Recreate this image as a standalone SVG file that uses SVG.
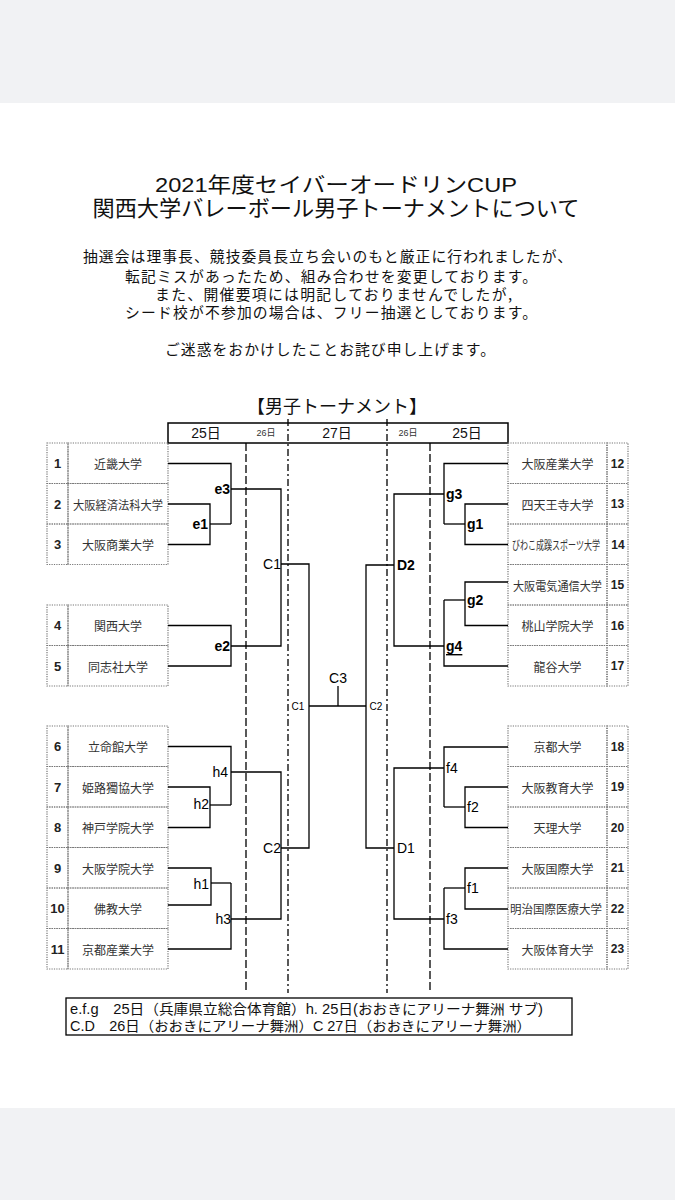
<svg xmlns="http://www.w3.org/2000/svg" width="675" height="1200" viewBox="0 0 675 1200">
<style>
.bg{fill:#f1f2f4}
.cell{fill:none;stroke:#777;stroke-width:1.2;stroke-dasharray:1.2 1.2}
.jp{font-family:"Noto Sans CJK JP","Liberation Sans",sans-serif;fill:#111}
.tl{font-family:"Liberation Sans","Noto Sans CJK JP",sans-serif;fill:#111}
.name{font-family:"Noto Sans CJK JP",sans-serif;font-size:12px;fill:#333;text-anchor:middle;dominant-baseline:central}
.num{font-family:"Liberation Sans",sans-serif;font-size:13px;font-weight:bold;fill:#222;text-anchor:middle;dominant-baseline:central}
.rn{font-size:12px}
.w{fill:none;stroke:#000;stroke-width:1.3}
.lbl{font-family:"Liberation Sans",sans-serif;font-size:14px;fill:#000;dominant-baseline:central}
.b{font-weight:bold}
.end{text-anchor:end}
.mid{text-anchor:middle}
.sm{font-size:10px}
.dash{stroke:#000;stroke-width:1.3;stroke-dasharray:8 3}
.dd{stroke:#000;stroke-width:1.3;stroke-dasharray:7 3 2 3}
.hd{font-family:"Liberation Sans","Noto Sans CJK JP",sans-serif;font-size:14px;fill:#111;text-anchor:middle;dominant-baseline:central}
.hs{font-size:9px;fill:#333}
</style>
<rect x="0" y="0" width="675" height="1200" fill="#fff"/>
<rect class="bg" x="0" y="0" width="675" height="103"/>
<rect class="bg" x="0" y="1108" width="675" height="92"/>

<g id="title">
<text class="tl" x="336" y="192" font-size="21" text-anchor="middle" textLength="362" lengthAdjust="spacingAndGlyphs">2021年度セイバーオードリンCUP</text>
<text class="jp" x="336" y="216" font-size="22" text-anchor="middle" textLength="487" lengthAdjust="spacingAndGlyphs">関西大学バレーボール男子トーナメントについて</text>
</g>
<g id="notice" class="jp" font-size="14.8" text-anchor="middle" lengthAdjust="spacingAndGlyphs">
<text x="327.5" y="262" textLength="489">抽選会は理事長、競技委員長立ち会いのもと厳正に行われましたが、</text>
<text x="331" y="282" textLength="412">転記ミスがあったため、組み合わせを変更しております。</text>
<text x="333.5" y="300" textLength="357">また、開催要項には明記しておりませんでしたが,</text>
<text x="331" y="318" textLength="412">シード校が不参加の場合は、フリー抽選としております。</text>
<text x="330" y="355" textLength="330">ご迷惑をおかけしたことお詫び申し上げます。</text>
</g>
<g id="heading">
<text class="jp" x="337" y="405" font-size="18" text-anchor="middle" dominant-baseline="central">【男子トーナメント】</text>
</g>

<g id="header">
<rect x="168" y="423" width="340" height="20" fill="none" stroke="#000" stroke-width="1.5"/>
<text class="hd" x="206" y="433">25日</text>
<text class="hd hs" x="266" y="433">26日</text>
<text class="hd" x="337" y="433">27日</text>
<text class="hd hs" x="408" y="433">26日</text>
<text class="hd" x="467" y="433">25日</text>
</g>

<g id="day-lines">
<line class="dash" x1="246" y1="443" x2="246" y2="993"/>
<line class="dd" x1="288" y1="419" x2="288" y2="993"/>
<line class="dd" x1="387" y1="419" x2="387" y2="993"/>
<line class="dash" x1="430" y1="443" x2="430" y2="993"/>
</g>

<g id="t1"><rect class="cell" x="47" y="443" width="21" height="40.5"/><rect class="cell" x="68" y="443" width="100" height="40.5"/><text class="num" x="57.5" y="463.5">1</text><text class="name" x="118" y="463.5">近畿大学</text></g>
<g id="t2"><rect class="cell" x="47" y="483.5" width="21" height="40.5"/><rect class="cell" x="68" y="483.5" width="100" height="40.5"/><text class="num" x="57.5" y="504">2</text><text class="name" x="118" y="504" textLength="90" lengthAdjust="spacingAndGlyphs">大阪経済法科大学</text></g>
<g id="t3"><rect class="cell" x="47" y="524" width="21" height="40.5"/><rect class="cell" x="68" y="524" width="100" height="40.5"/><text class="num" x="57.5" y="544.5">3</text><text class="name" x="118" y="544.5">大阪商業大学</text></g>
<g id="t4"><rect class="cell" x="47" y="605" width="21" height="40.5"/><rect class="cell" x="68" y="605" width="100" height="40.5"/><text class="num" x="57.5" y="625.5">4</text><text class="name" x="118" y="625.5">関西大学</text></g>
<g id="t5"><rect class="cell" x="47" y="645.5" width="21" height="40.5"/><rect class="cell" x="68" y="645.5" width="100" height="40.5"/><text class="num" x="57.5" y="666">5</text><text class="name" x="118" y="666">同志社大学</text></g>
<g id="t6"><rect class="cell" x="47" y="726" width="21" height="40.5"/><rect class="cell" x="68" y="726" width="100" height="40.5"/><text class="num" x="57.5" y="746.5">6</text><text class="name" x="118" y="746.5">立命館大学</text></g>
<g id="t7"><rect class="cell" x="47" y="766.5" width="21" height="40.5"/><rect class="cell" x="68" y="766.5" width="100" height="40.5"/><text class="num" x="57.5" y="787">7</text><text class="name" x="118" y="787">姫路獨協大学</text></g>
<g id="t8"><rect class="cell" x="47" y="807" width="21" height="40.5"/><rect class="cell" x="68" y="807" width="100" height="40.5"/><text class="num" x="57.5" y="827.5">8</text><text class="name" x="118" y="827.5">神戸学院大学</text></g>
<g id="t9"><rect class="cell" x="47" y="847.5" width="21" height="40.5"/><rect class="cell" x="68" y="847.5" width="100" height="40.5"/><text class="num" x="57.5" y="868">9</text><text class="name" x="118" y="868">大阪学院大学</text></g>
<g id="t10"><rect class="cell" x="47" y="888" width="21" height="40.5"/><rect class="cell" x="68" y="888" width="100" height="40.5"/><text class="num" x="57.5" y="908.5" font-size="10">10</text><text class="name" x="118" y="908.5">佛教大学</text></g>
<g id="t11"><rect class="cell" x="47" y="928.5" width="21" height="40.5"/><rect class="cell" x="68" y="928.5" width="100" height="40.5"/><text class="num" x="57.5" y="949" font-size="10">11</text><text class="name" x="118" y="949">京都産業大学</text></g>

<g id="t12"><rect class="cell" x="508" y="443" width="99" height="40.5"/><rect class="cell" x="607" y="443" width="21" height="40.5"/><text class="name" x="557.5" y="463.5">大阪産業大学</text><text class="num rn" x="617.5" y="463.5">12</text></g>
<g id="t13"><rect class="cell" x="508" y="483.5" width="99" height="40.5"/><rect class="cell" x="607" y="483.5" width="21" height="40.5"/><text class="name" x="557.5" y="504">四天王寺大学</text><text class="num rn" x="617.5" y="504">13</text></g>
<g id="t14"><rect class="cell" x="508" y="524" width="99" height="40.5"/><rect class="cell" x="607" y="524" width="21" height="40.5"/><text class="name" x="556" y="544.5" font-size="8" textLength="88" lengthAdjust="spacingAndGlyphs">びわこ成蹊スポーツ大学</text><text class="num rn" x="618" y="544.5">14</text></g>
<g id="t15"><rect class="cell" x="508" y="564.5" width="99" height="40.5"/><rect class="cell" x="607" y="564.5" width="21" height="40.5"/><text class="name" x="557.5" y="585" textLength="89" lengthAdjust="spacingAndGlyphs">大阪電気通信大学</text><text class="num rn" x="617.5" y="585">15</text></g>
<g id="t16"><rect class="cell" x="508" y="605" width="99" height="40.5"/><rect class="cell" x="607" y="605" width="21" height="40.5"/><text class="name" x="557.5" y="625.5">桃山学院大学</text><text class="num rn" x="617.5" y="625.5">16</text></g>
<g id="t17"><rect class="cell" x="508" y="645.5" width="99" height="40.5"/><rect class="cell" x="607" y="645.5" width="21" height="40.5"/><text class="name" x="557.5" y="666">龍谷大学</text><text class="num rn" x="617.5" y="666">17</text></g>
<g id="t18"><rect class="cell" x="508" y="726" width="99" height="40.5"/><rect class="cell" x="607" y="726" width="21" height="40.5"/><text class="name" x="557.5" y="746.5">京都大学</text><text class="num rn" x="617.5" y="746.5">18</text></g>
<g id="t19"><rect class="cell" x="508" y="766.5" width="99" height="40.5"/><rect class="cell" x="607" y="766.5" width="21" height="40.5"/><text class="name" x="557.5" y="787">大阪教育大学</text><text class="num rn" x="617.5" y="787">19</text></g>
<g id="t20"><rect class="cell" x="508" y="807" width="99" height="40.5"/><rect class="cell" x="607" y="807" width="21" height="40.5"/><text class="name" x="557.5" y="827.5">天理大学</text><text class="num rn" x="617.5" y="827.5">20</text></g>
<g id="t21"><rect class="cell" x="508" y="847.5" width="99" height="40.5"/><rect class="cell" x="607" y="847.5" width="21" height="40.5"/><text class="name" x="557.5" y="868">大阪国際大学</text><text class="num rn" x="617.5" y="868">21</text></g>
<g id="t22"><rect class="cell" x="508" y="888" width="99" height="40.5"/><rect class="cell" x="607" y="888" width="21" height="40.5"/><text class="name" x="556" y="908.5" textLength="92" lengthAdjust="spacingAndGlyphs">明治国際医療大学</text><text class="num rn" x="617.5" y="908.5">22</text></g>
<g id="t23"><rect class="cell" x="508" y="928.5" width="99" height="40.5"/><rect class="cell" x="607" y="928.5" width="21" height="40.5"/><text class="name" x="557.5" y="949">大阪体育大学</text><text class="num rn" x="617.5" y="949">23</text></g>

<g id="connectors" class="w">
<path d="M168 463.5H231V524"/>
<path d="M168 504H210V544.5H168"/>
<path d="M210 524H231"/>
<path d="M168 625.5H231V666H168"/>
<path d="M231 489H281V646H231"/>
<path d="M281 564H309V848H281"/>
<path d="M168 746.5H231V805"/>
<path d="M168 787H210V827.5H168"/>
<path d="M210 805H231"/>
<path d="M231 772H281V919H231"/>
<path d="M168 868H211V905H168"/>
<path d="M211 883H231"/>
<path d="M168 949H231V883"/>
<path d="M309 706H366"/>
<path d="M338 706V686"/>
<path d="M508 463.5H444V524"/>
<path d="M508 504H465V544.5H508"/>
<path d="M465 524H444"/>
<path d="M444 494H394V646H444"/>
<path d="M508 582H465V625.5H508"/>
<path d="M465 600H444"/>
<path d="M508 666H444V600"/>
<path d="M394 565H366V848H394"/>
<path d="M508 747H444V807"/>
<path d="M508 787H465V827.5H508"/>
<path d="M465 807H444"/>
<path d="M444 768H394V919H444"/>
<path d="M508 868H465V909H508"/>
<path d="M465 888H444"/>
<path d="M508 949H444V888"/>
</g>

<g id="m-e3"><text class="lbl b end" x="230" y="489">e3</text></g>
<g id="m-e1"><text class="lbl b end" x="208" y="524">e1</text></g>
<g id="m-e2"><text class="lbl b end" x="230" y="646">e2</text></g>
<g id="m-C1"><text class="lbl end" x="281" y="564">C1</text></g>
<g id="m-h4"><text class="lbl end" x="228" y="772">h4</text></g>
<g id="m-h2"><text class="lbl end" x="209" y="804">h2</text></g>
<g id="m-C2"><text class="lbl end" x="281" y="848">C2</text></g>
<g id="m-h1"><text class="lbl end" x="209" y="884">h1</text></g>
<g id="m-h3"><text class="lbl end" x="231" y="919">h3</text></g>
<g id="m-C3"><text class="lbl mid" x="338" y="678" font-size="15">C3</text><text class="lbl mid sm" x="298" y="706">C1</text><text class="lbl mid sm" x="376" y="706">C2</text></g>
<g id="m-g3"><text class="lbl b" x="446" y="494">g3</text></g>
<g id="m-g1"><text class="lbl b" x="467" y="524">g1</text></g>
<g id="m-D2"><text class="lbl b" x="397" y="565">D2</text></g>
<g id="m-g2"><text class="lbl b" x="467" y="600">g2</text></g>
<g id="m-g4"><text class="lbl b" x="446" y="646" text-decoration="underline">g4</text></g>
<g id="m-f4"><text class="lbl" x="446" y="768">f4</text></g>
<g id="m-f2"><text class="lbl" x="467" y="807">f2</text></g>
<g id="m-D1"><text class="lbl" x="397" y="848">D1</text></g>
<g id="m-f1"><text class="lbl" x="467" y="888">f1</text></g>
<g id="m-f3"><text class="lbl" x="446" y="919">f3</text></g>

<g id="footer">
<rect x="66" y="998" width="506" height="37" fill="#fff" stroke="#000" stroke-width="1.3"/>
<text class="tl" x="70" y="1014" font-size="14" textLength="473" lengthAdjust="spacingAndGlyphs">e.f.g　25日（兵庫県立総合体育館）h. 25日(おおきにアリーナ舞洲 サブ)</text>
<text class="tl" x="70" y="1031" font-size="14" textLength="461" lengthAdjust="spacingAndGlyphs">C.D　26日（おおきにアリーナ舞洲）C 27日（おおきにアリーナ舞洲）</text>
</g>
</svg>
